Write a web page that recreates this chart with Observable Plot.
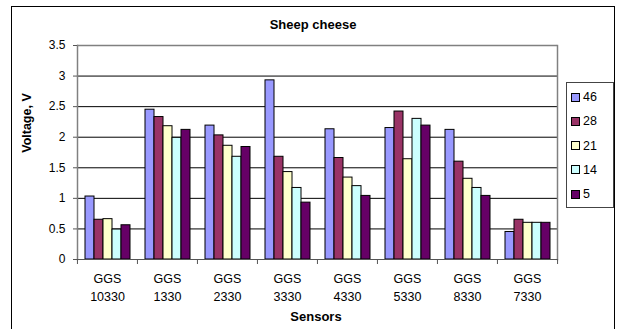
<!DOCTYPE html>
<html>
<head>
<meta charset="utf-8">
<script src="https://cdn.jsdelivr.net/npm/d3@7"></script>
<script src="https://cdn.jsdelivr.net/npm/@observablehq/plot@0.6"></script>
<style>
  html, body { margin: 0; padding: 0; background: #fff; }
  #wrap { position: relative; width: 618px; height: 329px; overflow: hidden; font-family: "Liberation Sans", Arial, sans-serif; }
  #chart { position: absolute; left: 0; top: 0; }
  #outer { position: absolute; left: 11px; top: 6px; width: 604px; height: 340px; border: 1px solid #000; box-sizing: border-box; border-right-width: 1.5px; border-top-width: 1.5px;}
  #title { position: absolute; left: 0; width: 626px; top: 17px; text-align: center; font-weight: bold; font-size: 13px; }
  #ylabel { position: absolute; left: 27px; top: 123px; transform: translate(-50%, -50%) rotate(-90deg); font-weight: bold; font-size: 12.5px; white-space: nowrap; }
  #xlabel { position: absolute; left: 0; width: 632px; top: 309px; text-align: center; font-weight: bold; font-size: 13px; }
  #legend { position: absolute; left: 566px; top: 82px; width: 48px; height: 126px; border: 1px solid #444; box-sizing: border-box; background: #fff; }
  .item { position: absolute; left: 4px; height: 14px; display: flex; align-items: center; font-size: 12.5px; }
  .sw { width: 7px; height: 7px; border: 1px solid #000; margin-right: 3px; }
</style>
</head>
<body>
<div id="wrap">
  <div id="chart"></div>
  <div id="outer"></div>
  <div id="title">Sheep cheese</div>
  <div id="ylabel">Voltage, V</div>
  <div id="xlabel">Sensors</div>
  <div id="legend"></div>
</div>
<script>
const sensors = ["GGS 10330", "GGS 1330", "GGS 2330", "GGS 3330", "GGS 4330", "GGS 5330", "GGS 8330", "GGS 7330"];
const series = ["46", "28", "21", "14", "5"];
const v46 = [1.03, 2.45, 2.19, 2.93, 2.13, 2.15, 2.12, 0.45];
const v28 = [0.65, 2.33, 2.03, 1.68, 1.66, 2.42, 1.60, 0.65];
const v21 = [0.66, 2.18, 1.86, 1.43, 1.34, 1.64, 1.32, 0.60];
const v14 = [0.49, 1.99, 1.68, 1.17, 1.20, 2.30, 1.17, 0.60];
const v5  = [0.56, 2.12, 1.84, 0.93, 1.04, 2.19, 1.04, 0.60];
const yTicks = [0, 0.5, 1, 1.5, 2, 2.5, 3, 3.5];

const values = [v46, v28, v21, v14, v5];
const data = [];
sensors.forEach((s, i) => series.forEach((k, j) => data.push({sensor: s, series: k, value: values[j][i]})));

const colors = ["#9999ff", "#993366", "#ffffcc", "#ccffff", "#660066"];

const W = 618, H = 329, mL = 76, mR = 61, mT = 45, mB = 70;
const bw = (W - mL - mR) / sensors.length;

const chart = Plot.plot({
  width: W, height: H,
  marginLeft: mL, marginRight: mR, marginTop: mT, marginBottom: mB,
  style: {fontFamily: "Liberation Sans, Arial, sans-serif", fontSize: "11px", background: "transparent", overflow: "visible"},
  fx: {domain: sensors, padding: 0, label: null},
  x: {domain: series, paddingInner: 0, paddingOuter: 0.63, axis: null},
  y: {domain: [0, 3.5], label: null},
  color: {domain: series, range: colors},
  marks: [
    Plot.gridY({ticks: yTicks.filter(t => t > 0 && t < 3.5), stroke: "#000", strokeOpacity: 1, strokeWidth: 1}),
    Plot.ruleY([3.5], {stroke: "#808080", strokeWidth: 1.5}),
    Plot.frame({anchor: "left", facetAnchor: "left", stroke: "#808080", strokeWidth: 1.5}),
    Plot.frame({anchor: "right", facetAnchor: "right", stroke: "#808080", strokeWidth: 1.5}),
    Plot.barY(data, {fx: "sensor", x: "series", y: "value", fill: "series", stroke: "#000", strokeWidth: 1}),
    Plot.ruleY([0], {stroke: "#555", strokeWidth: 1.2}),
    Plot.axisY({ticks: yTicks, tickSize: 4, tickPadding: 8, stroke: "#555", fill: "#000", fontSize: 12, tickFormat: d => String(d), label: null}),
    Plot.axisFx({anchor: "bottom", tickSize: 0, tickPadding: 11, lineHeight: 1.44, fontSize: 12.5, fill: "#000",
      tickFormat: d => d.replace(" ", "\n"), label: null}),
    Plot.axisFx({anchor: "bottom", tickSize: 5, text: null, dx: -bw / 2, stroke: "#555", label: null}),
    Plot.axisFx({anchor: "bottom", ticks: [sensors[sensors.length - 1]], tickSize: 5, text: null, dx: bw / 2, stroke: "#555", label: null})
  ]
});
document.getElementById("chart").appendChild(chart);

const legend = document.getElementById("legend");
series.forEach((s, i) => {
  const it = document.createElement("div");
  it.className = "item";
  it.style.top = (7 + i * 24.3) + "px";
  const sw = document.createElement("span");
  sw.className = "sw";
  sw.style.background = colors[i];
  it.appendChild(sw);
  const t = document.createElement("span");
  t.textContent = s;
  it.appendChild(t);
  legend.appendChild(it);
});
</script>
</body>
</html>
